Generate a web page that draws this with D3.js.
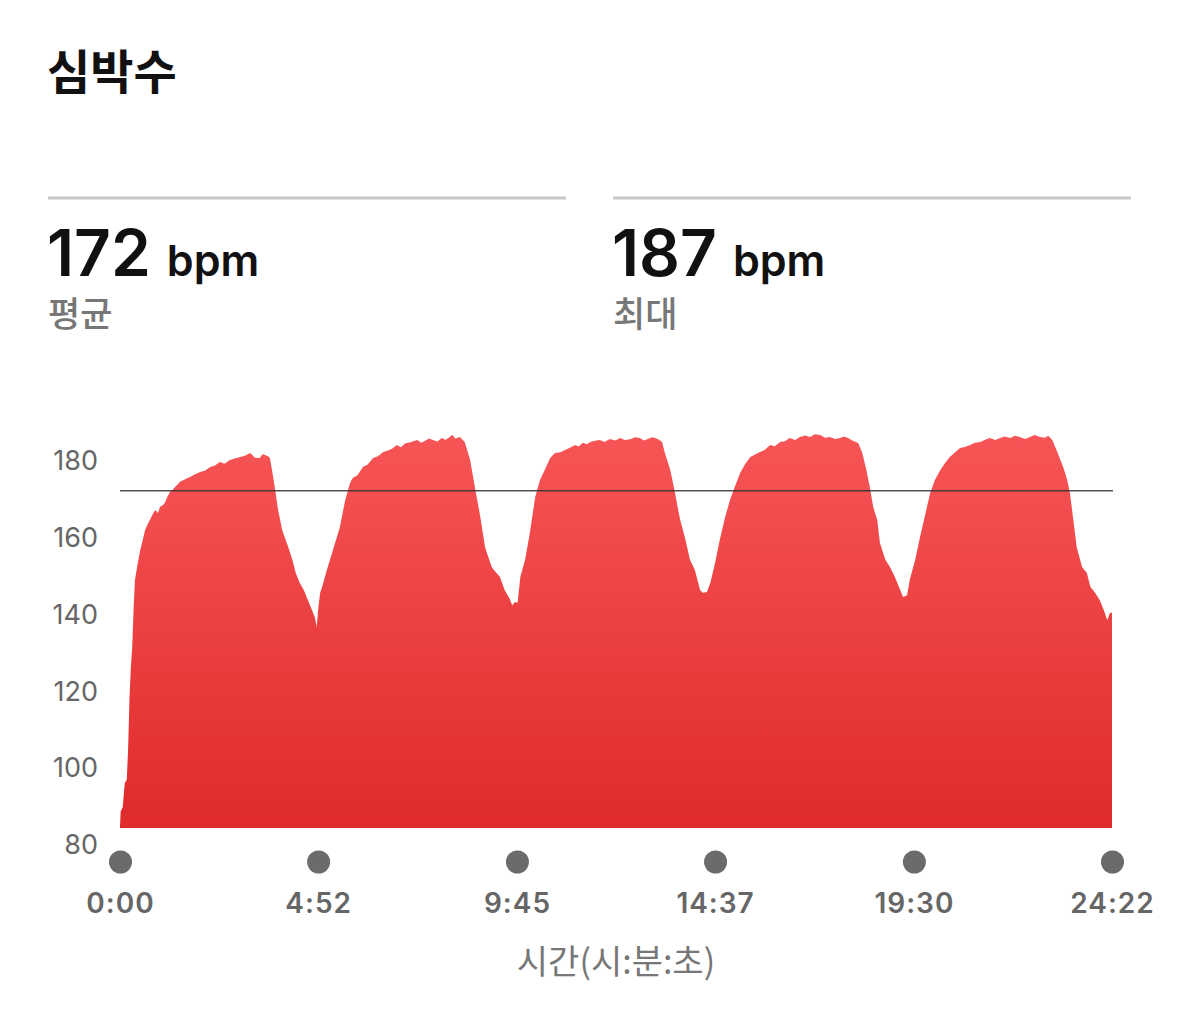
<!DOCTYPE html>
<html>
<head>
<meta charset="utf-8">
<script src="https://cdn.jsdelivr.net/npm/d3@7"></script>
<style>
  body { margin: 0; background: #fff; }
  svg { display: block; }
</style>
</head>
<body>
<script>
'use strict';

// heart rate samples, seconds from start and bpm
const timeSec = [
  0, 1, 4, 7, 10, 12, 14, 16, 18, 20, 22, 26, 30, 34, 37, 40, 44, 48, 52, 56,
  59, 63, 66, 70, 74, 78, 81, 85, 88, 95, 103, 110, 118, 125, 133, 140, 147, 154, 162, 169,
  177, 184, 192, 199, 206, 210, 214, 218, 221, 224, 228, 233, 239, 248, 254, 259, 265, 271, 277, 283,
  287, 290, 292, 295, 298, 305, 314, 324, 332, 339, 343, 350, 358, 365, 373, 380, 388, 395, 401, 408,
  414, 420, 429, 438, 444, 450, 455, 461, 468, 474, 480, 486, 490, 494, 501, 508, 516, 523, 531, 538,
  548, 560, 567, 574, 578, 582, 586, 590, 597, 604, 612, 619, 626, 634, 641, 649, 656, 663, 671, 676,
  682, 688, 693, 700, 707, 714, 722, 730, 737, 744, 752, 759, 766, 772, 778, 784, 789, 795, 799, 803,
  811, 818, 825, 833, 840, 847, 855, 859, 865, 870, 877, 884, 892, 899, 906, 914, 921, 929, 936, 943,
  950, 958, 965, 973, 980, 987, 995, 1002, 1010, 1017, 1024, 1032, 1039, 1046, 1054, 1061, 1067, 1073, 1080, 1088,
  1094, 1100, 1105, 1110, 1116, 1120, 1128, 1135, 1142, 1150, 1154, 1160, 1164, 1172, 1179, 1186, 1194, 1201, 1209, 1216,
  1223, 1230, 1238, 1245, 1253, 1260, 1268, 1275, 1282, 1290, 1297, 1304, 1312, 1319, 1326, 1334, 1341, 1348, 1356, 1363,
  1368, 1374, 1382, 1390, 1396, 1400, 1405, 1410, 1418, 1425, 1430, 1437, 1444, 1450, 1455, 1459, 1462
];
const bpm = [
  84.4, 88.5, 89.6, 95.9, 96.7, 105, 118, 126, 131.3, 141, 148.7, 153, 156.6, 159.5, 161.8, 163, 164.4, 165.8, 167.0, 166.2,
  167.8, 168.2, 168.8, 170.5, 171.7, 172.3, 173.0, 173.6, 174.3, 174.9, 175.6, 176.2, 176.9, 177.2, 178.2, 178.6, 179.5, 179.0, 180.0, 180.4,
  180.8, 181.1, 181.8, 180.6, 180.5, 181.5, 181.3, 181.0, 180.5, 177.4, 173.0, 167.0, 161.8, 157.3, 154.0, 150.6, 148.0, 146.1, 143.5, 140.9,
  139.1, 136.5, 141.0, 145.4, 147.0, 151.4, 156.6, 162.5, 169.6, 174.0, 175.3, 176.0, 178.2, 178.8, 180.5, 181.0, 182.1, 182.5, 182.9, 183.9,
  183.3, 184.3, 184.7, 185.2, 184.5, 185.0, 185.6, 185.2, 184.8, 185.7, 185.3, 186.0, 186.6, 185.6, 186.0, 184.7, 180.0, 173.0, 165.2, 157.3,
  152.0, 149.5, 146.1, 144.0, 142.2, 143.0, 142.8, 149.5, 154.0, 161.0, 170.4, 174.8, 177.4, 180.5, 181.8, 182.0, 182.6, 183.2, 183.9, 183.5,
  184.5, 184.1, 184.7, 185.0, 185.2, 184.7, 185.5, 185.1, 185.7, 185.2, 185.4, 185.9, 185.7, 185.1, 185.5, 185.9, 185.7, 185.2, 184.7, 181.8,
  177.4, 171.4, 164.8, 159.5, 154.0, 151.5, 146.1, 145.4, 145.6, 148.0, 153.2, 159.2, 165.2, 169.6, 173.0, 176.6, 178.8, 180.8, 181.4, 182.1,
  182.6, 183.9, 183.6, 184.7, 184.9, 185.7, 185.2, 186.0, 186.4, 186.0, 186.7, 186.5, 185.8, 186.0, 185.5, 185.7, 186.1, 185.7, 185.0, 184.4,
  181.8, 177.4, 173.0, 167.8, 164.4, 158.4, 154.0, 152.1, 149.5, 146.1, 144.3, 144.8, 148.8, 154.0, 159.9, 165.2, 171.4, 174.8, 177.4, 179.2,
  180.8, 181.9, 183.1, 183.4, 183.9, 184.5, 184.7, 185.3, 185.7, 185.2, 185.7, 186.1, 185.7, 186.3, 186.0, 185.5, 186.0, 186.5, 186.0, 185.8,
  186.3, 185.2, 181.8, 178.2, 174.8, 171.4, 164.4, 157.3, 152.1, 150.6, 147.0, 145.4, 143.5, 140.9, 138.3, 140.2, 140.2
];

const avgBpm = 172;
const maxBpm = 187;
const yTicks = [80, 100, 120, 140, 160, 180];
const xTicks = [0, 292, 585, 877, 1170, 1462];

const width = 1179;
const height = 1009;
const plotBottom = 828;

const svg = d3.select('body')
  .append('svg')
  .attr('width', width)
  .attr('height', height);

const latin = 'Inter, Roboto, "Liberation Sans", sans-serif';
const korean = '"Noto Sans CJK KR", "Noto Sans", sans-serif';

// header
svg.append('text')
  .attr('x', 47)
  .attr('y', 89)
  .style('font-family', korean)
  .style('font-weight', 700)
  .style('font-size', '47px')
  .attr('fill', '#111')
  .text('심박수');

function stat(x0, value, label) {
  svg.append('line')
    .attr('x1', x0).attr('x2', x0 + 518)
    .attr('y1', 198).attr('y2', 198)
    .attr('stroke', '#c8c8c8')
    .attr('stroke-width', 3);

  let t = svg.append('text')
    .attr('x', x0 - 1)
    .attr('y', 276)
    .attr('fill', '#111')
    .style('font-family', latin);
  t.append('tspan')
    .style('font-size', '64px')
    .style('font-weight', 600)
    .style('letter-spacing', '0px')
    .text(value);
  t.append('tspan')
    .attr('dx', 16)
    .style('font-size', '43px')
    .style('font-weight', 600)
    .text('bpm');

  svg.append('text')
    .attr('x', x0)
    .attr('y', 327)
    .attr('fill', '#777')
    .style('font-family', korean)
    .style('font-weight', 500)
    .style('font-size', '35px')
    .text(label);
}
stat(48, avgBpm, '평균');
stat(613, maxBpm, '최대');

// scales
const xScale = d3.scaleLinear()
  .domain([0, 1462])
  .range([120, 1112]);

const yScale = d3.scaleLinear()
  .domain([80, 180])
  .range([844, 460]);

const points = timeSec.map((t, i) => ({ t: t, v: bpm[i] }));

const grad = svg.append('defs')
  .append('linearGradient')
  .attr('id', 'hrFill')
  .attr('gradientUnits', 'userSpaceOnUse')
  .attr('x1', 0).attr('x2', 0)
  .attr('y1', yScale(187)).attr('y2', plotBottom);
grad.append('stop').attr('offset', '0%').attr('stop-color', '#f75557');
grad.append('stop').attr('offset', '100%').attr('stop-color', '#e02a2b');

const area = d3.area()
  .x(d => xScale(d.t))
  .y0(plotBottom)
  .y1(d => yScale(d.v));

svg.append('path')
  .datum(points)
  .attr('d', area)
  .attr('fill', 'url(#hrFill)');

// average line
svg.append('line')
  .attr('x1', xScale(0)).attr('x2', xScale(1462) + 1)
  .attr('y1', yScale(avgBpm)).attr('y2', yScale(avgBpm))
  .attr('stroke', '#333')
  .attr('stroke-opacity', 0.85)
  .attr('stroke-width', 1.5);

// y axis
const yAxis = d3.axisLeft(yScale)
  .tickValues(yTicks)
  .tickSize(0)
  .tickPadding(0);

const yG = svg.append('g')
  .attr('transform', 'translate(98, 0)')
  .call(yAxis);
yG.select('.domain').remove();
yG.selectAll('text')
  .attr('fill', '#666')
  .attr('dy', '0.36em')
  .style('font-family', latin)
  .style('font-size', '27px')
  .style('font-weight', 400);

// x axis with dots
function fmt(s) {
  let m = Math.floor(s / 60);
  let sec = s % 60;
  return m + ':' + (sec < 10 ? '0' : '') + sec;
}

const xAxis = d3.axisBottom(xScale)
  .tickValues(xTicks)
  .tickSize(0)
  .tickPadding(0)
  .tickFormat(fmt);

const xG = svg.append('g')
  .attr('transform', 'translate(0, 862)')
  .call(xAxis);
xG.select('.domain').remove();
xG.selectAll('.tick')
  .append('circle')
  .attr('r', 11.5)
  .attr('fill', '#6b6b6b');
xG.selectAll('text')
  .attr('y', 51)
  .attr('dy', 0)
  .attr('fill', '#666')
  .style('font-family', latin)
  .style('font-size', '28px')
  .style('font-weight', 600)
  .style('letter-spacing', '1px');

svg.append('text')
  .attr('x', 616)
  .attr('y', 974)
  .attr('text-anchor', 'middle')
  .attr('fill', '#777')
  .style('font-family', korean)
  .style('font-size', '34px')
  .text('시간(시:분:초)');
</script>
</body>
</html>
